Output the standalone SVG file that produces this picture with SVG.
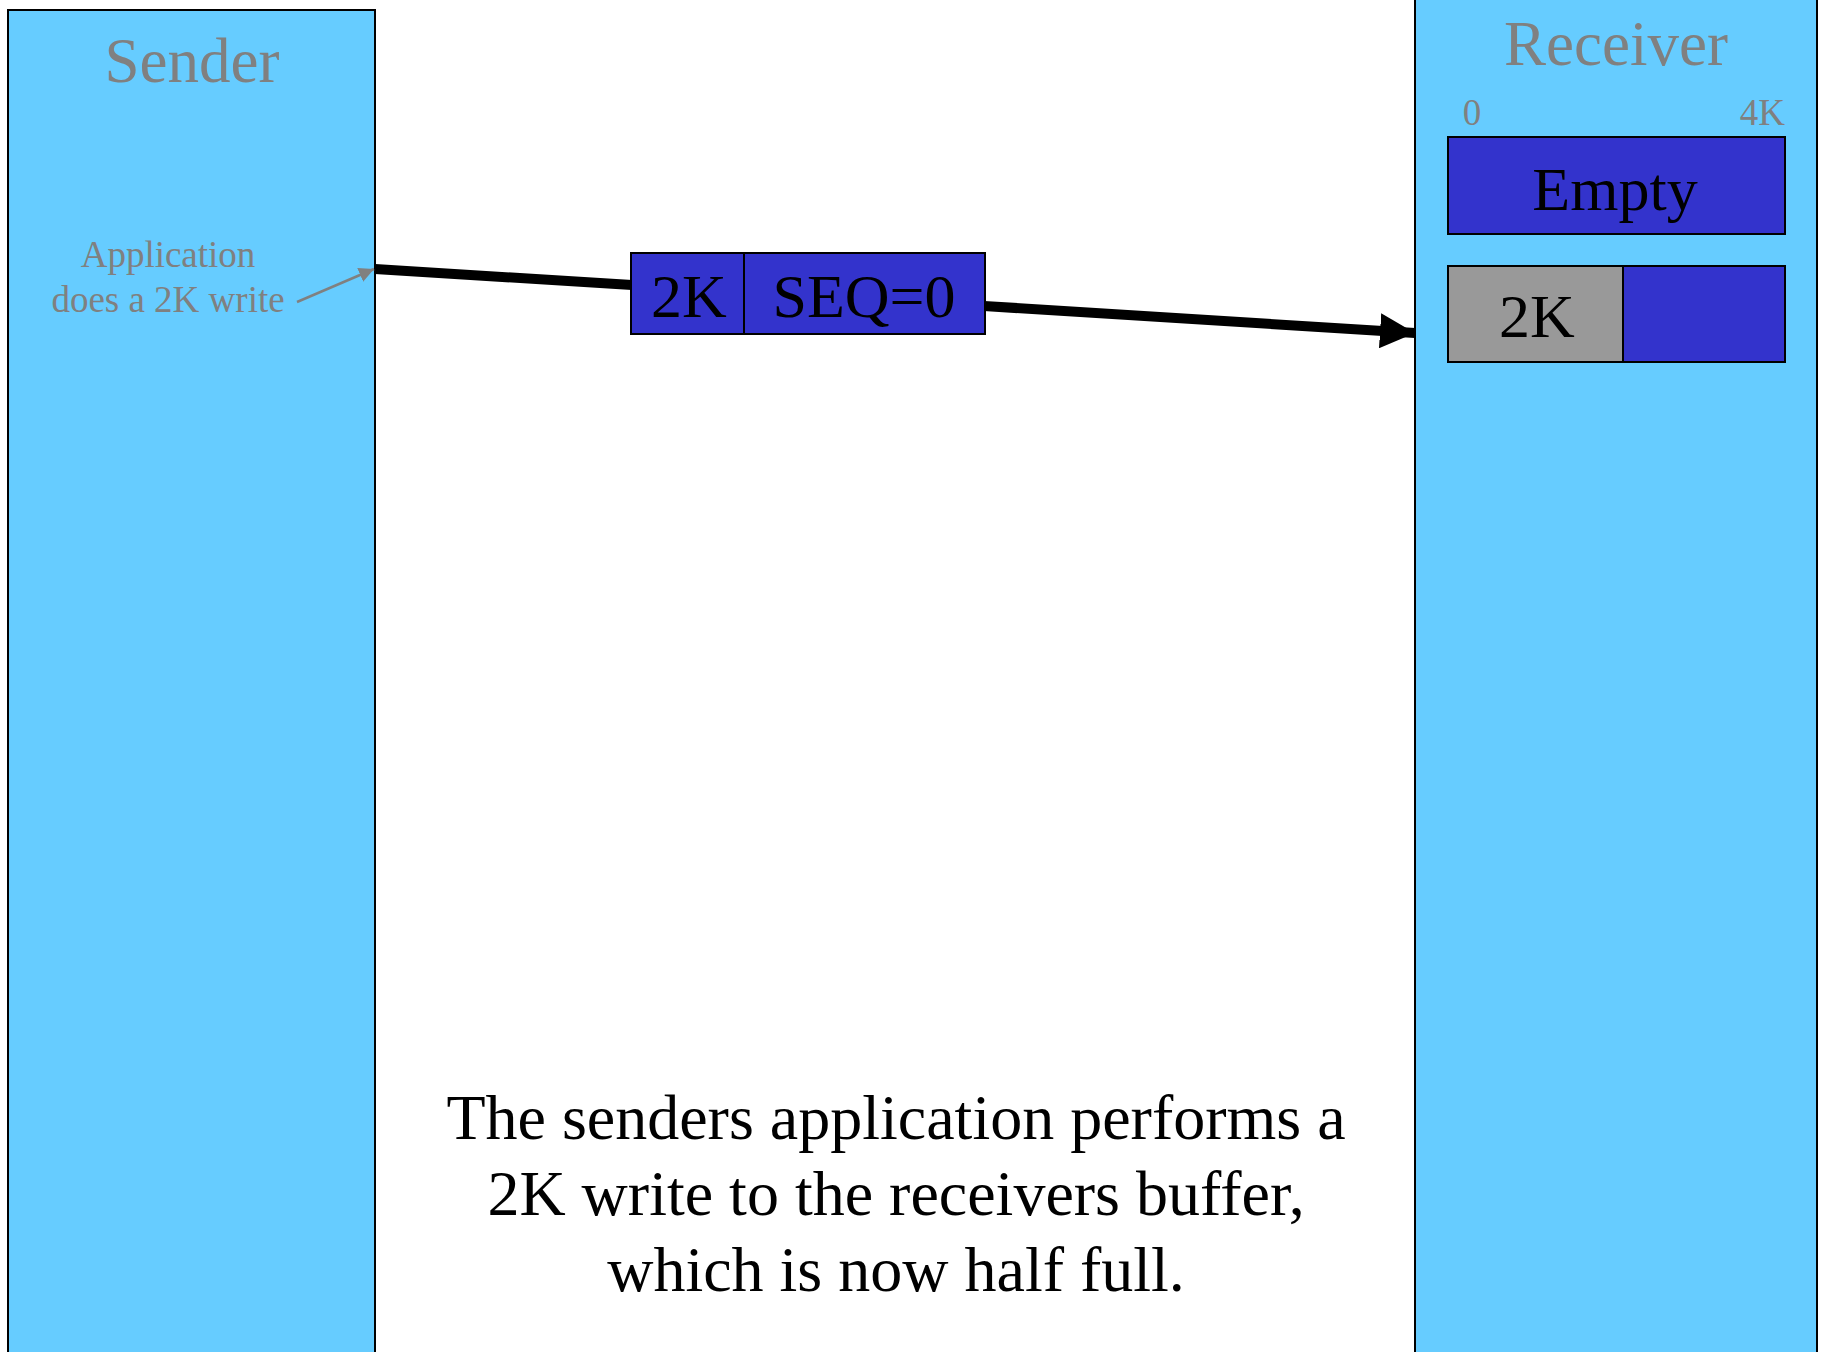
<svg xmlns="http://www.w3.org/2000/svg" width="1822" height="1352" viewBox="0 0 1822 1352">
  <style>
    .host { fill: #66CCFF; stroke: #000; stroke-width: 2; }
    .buf { fill: #3333CC; stroke: #000; stroke-width: 2; }
    .used { fill: #999999; stroke: #000; stroke-width: 2; }
    .serif { font-family: "Liberation Serif", "Times New Roman", serif; }
    .title { font-size: 63px; fill: #808080; text-anchor: middle; }
    .note { font-size: 37px; fill: #808080; text-anchor: middle; }
    .big { font-size: 62px; fill: #000; text-anchor: middle; }
    .caption { font-size: 64px; fill: #000; text-anchor: middle; }
  </style>
  <defs>
    <marker id="head" viewBox="0 0 10 10" refX="10" refY="5" markerWidth="3.5" markerHeight="3.5" markerUnits="strokeWidth" orient="auto">
      <path d="M0,0 L10,5 L0,10 z" fill="#000"/>
    </marker>
    <marker id="grayHead" viewBox="0 0 10 10" refX="10" refY="5" markerWidth="6" markerHeight="6" markerUnits="strokeWidth" orient="auto">
      <path d="M0,0 L10,5 L0,10 z" fill="#808080"/>
    </marker>
  </defs>

  <rect width="1822" height="1352" fill="#fff"/>

  <!-- Sender host -->
  <g id="sender" class="serif">
    <rect class="host" x="8" y="10" width="367" height="1360"/>
    <text class="title" x="192" y="82">Sender</text>
    <text class="note" x="168" y="267">Application</text>
    <text class="note" x="168" y="312">does a 2K write</text>
  </g>

  <!-- Receiver host with its 4K buffer -->
  <g id="receiver" class="serif">
    <rect class="host" x="1415" y="-10" width="402" height="1380"/>
    <text class="title" x="1616" y="65">Receiver</text>
    <text class="note" x="1472" y="125">0</text>
    <text class="note" x="1785" y="125" style="text-anchor:end">4K</text>
  </g>

  <g id="buffer-empty" class="serif">
    <rect class="buf" x="1448" y="137" width="337" height="97"/>
    <text class="big" x="1615" y="210">Empty</text>
  </g>

  <g id="buffer-half" class="serif">
    <rect class="used" x="1448" y="266" width="175" height="96"/>
    <rect class="buf" x="1623" y="266" width="162" height="96"/>
    <text class="big" x="1537" y="337">2K</text>
  </g>

  <!-- Connectors -->
  <g id="connectors">
    <line x1="297" y1="302" x2="374" y2="269" stroke="#808080" stroke-width="2.5" marker-end="url(#grayHead)"/>
    <line x1="375" y1="269" x2="632" y2="285" stroke="#000" stroke-width="10"/>
    <line x1="984" y1="306" x2="1415" y2="333" stroke="#000" stroke-width="10" marker-end="url(#head)"/>
  </g>

  <!-- Segment in flight -->
  <g id="segment" class="serif">
    <rect class="buf" x="631" y="253" width="113" height="81"/>
    <rect class="buf" x="744" y="253" width="241" height="81"/>
    <text class="big" x="689" y="317">2K</text>
    <text class="big" x="864" y="317">SEQ=0</text>
  </g>

  <g id="caption" class="serif">
    <text class="caption" x="896" y="1139">The senders application performs a</text>
    <text class="caption" x="896" y="1215">2K write to the receivers buffer,</text>
    <text class="caption" x="896" y="1291">which is now half full.</text>
  </g>
</svg>
